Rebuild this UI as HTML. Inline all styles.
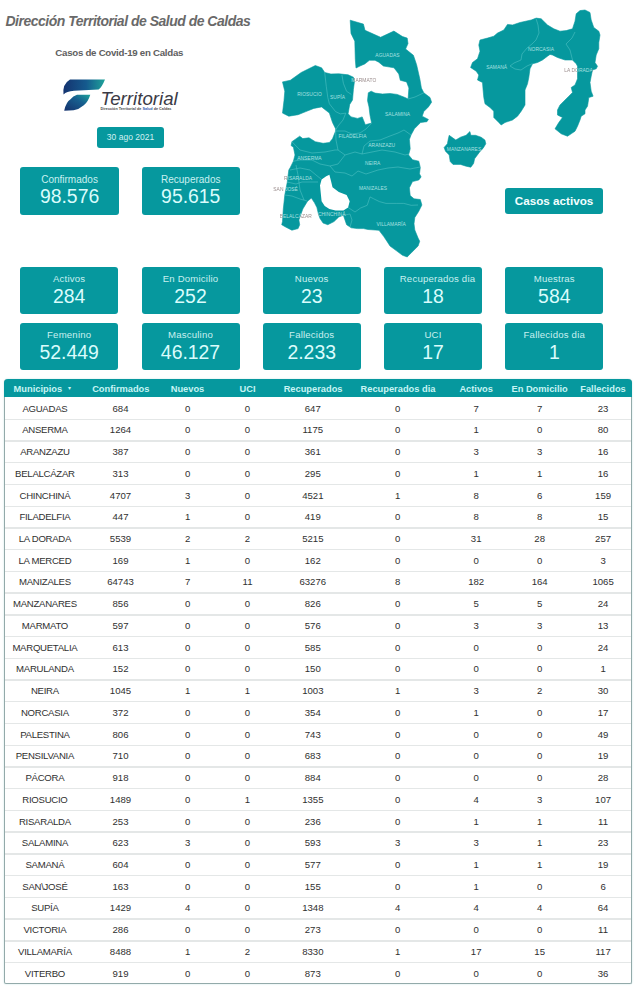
<!DOCTYPE html>
<html><head><meta charset="utf-8"><title>Casos de Covid-19 en Caldas</title>
<style>
*{margin:0;padding:0;box-sizing:border-box}
html,body{width:640px;height:986px;overflow:hidden;background:#fff}
body{position:relative;font-family:"Liberation Sans",Arial,sans-serif}
#title{position:absolute;left:5.5px;top:12.5px;font:italic bold 14px "Liberation Sans",sans-serif;letter-spacing:-0.5px;color:#696969;white-space:nowrap}
#sub{position:absolute;left:55.3px;top:47.4px;font:bold 9.7px "Liberation Sans",sans-serif;letter-spacing:-0.27px;color:#606060;white-space:nowrap}
#date{position:absolute;left:97px;top:127px;width:67px;height:20.5px;background:#06989e;border-radius:3px;color:#d2f1f1;font-size:8.5px;line-height:20.5px;text-align:center}
#btn{position:absolute;left:505.3px;top:188px;width:97.5px;height:26px;background:#06989e;border-radius:3px;color:#f4ffff;font:bold 11.7px/26px "Liberation Sans",sans-serif;text-align:center}
.card{position:absolute;background:#06989e;border-radius:3px}
.cl{position:absolute;left:0;right:0;text-align:center;font-size:10px;line-height:11px;color:#c9f0f0;white-space:nowrap}
.cv{position:absolute;left:0;right:0;text-align:center;font-size:19.4px;line-height:22px;color:#dafcfc;white-space:nowrap}
.cl2{position:absolute;left:0;right:0;top:6.5px;text-align:center;font-size:9.6px;line-height:11px;color:#c9f0f0;white-space:nowrap;letter-spacing:0.2px}
.cv2{position:absolute;left:0;right:0;top:18.3px;text-align:center;font-size:19.4px;line-height:22px;color:#dafcfc;white-space:nowrap}
#tab{position:absolute;border:1px solid #93aaaa;border-top:none;border-radius:4px 4px 2px 2px;box-shadow:0 0 1.5px rgba(120,190,190,0.6)}
#thead{position:absolute;left:-1px;right:-1px;top:0;background:#06989e;border-radius:4px 4px 0 0}
.th{position:absolute;top:0.9px;width:90px;height:18.6px;text-align:center;color:#c8f4f4;font:bold 9.3px/18.6px "Liberation Sans",sans-serif;white-space:nowrap}
.arr{position:absolute;top:0.3px;font:5.5px/18.6px "Liberation Sans",sans-serif;color:#c8f4f4}
.sep{position:absolute;left:0;right:0;height:1.4px;background:#e4e7e7}
.td{position:absolute;width:90px;height:21.73px;line-height:21.73px;margin-top:0.4px;text-align:center;color:#303030;font-size:9.6px;white-space:nowrap}
.tn{letter-spacing:-0.28px}
.ml{font-family:"Liberation Sans",sans-serif;font-size:4.9px;text-anchor:middle;letter-spacing:0.05px}
</style></head><body>
<div id="title">Dirección Territorial de Salud de Caldas</div>
<div id="sub">Casos de Covid-19 en Caldas</div>
<svg id="logo" width="130" height="45" viewBox="55 72 130 45" style="position:absolute;left:55px;top:72px">
<defs>
<linearGradient id="g1" x1="0" y1="0" x2="1" y2="0"><stop offset="0" stop-color="#14336f"/><stop offset="0.55" stop-color="#155a8e"/><stop offset="1" stop-color="#1fa39a"/></linearGradient>
<linearGradient id="g2" x1="0" y1="1" x2="1" y2="0"><stop offset="0" stop-color="#14306c"/><stop offset="0.6" stop-color="#175f8f"/><stop offset="1" stop-color="#1ea49b"/></linearGradient>
</defs>
<path d="M70,79.5 L105,79.5 Q102,87 98.6,89.6 L74,90.8 Q66.5,91.5 63.5,94.5 Q62.3,84 70,79.5 Z" fill="url(#g1)"/>
<path d="M77,94.7 L90.3,94.7 Q88,102 83.8,105.3 Q79,109.5 73.6,110.3 L64.2,110.8 Q66,102 70.5,99.3 Q73,95.8 77,94.7 Z" fill="url(#g2)"/>
<text x="100.5" y="104.6" font-family="Liberation Sans, sans-serif" font-style="italic" font-size="18.7" fill="#3b3b46">Territorial</text>
<text x="100.6" y="109.6" font-family="Liberation Sans, sans-serif" font-size="3.75" font-weight="bold" fill="#4a4a4a">Dirección Territorial de <tspan fill="#2a5db0">Salud</tspan> de Caldas</text>
</svg>
<div id="date">30 ago 2021</div>
<svg id="map" width="640" height="270" viewBox="0 0 640 270" style="position:absolute;left:0;top:0">
<polygon points="350.2,20.2 363.4,24.1 365.0,30.3 380.6,37.3 393.9,31.1 402.5,36.6 407.2,38.1 408.0,43.6 405.6,49.0 413.4,55.3 416.6,64.7 419.8,78.8 421.4,88.1 423.8,92.8 430.0,97.5 431.6,102.2 428.4,106.9 423.8,111.6 422.2,116.2 428.4,119.4 426.9,121.7 420.6,122.5 414.4,128.8 411.0,135.0 409.4,139.4 410.2,148.8 408.6,155.0 412.5,159.7 418.8,161.2 420.3,167.5 419.5,173.8 421.1,176.9 418.8,180.0 412.5,181.6 409.4,187.8 410.2,195.6 414.0,198.8 420.3,199.5 421.9,205.0 418.8,211.2 414.8,217.5 414.0,223.8 414.8,230.0 418.1,238.1 419.7,241.2 418.1,246.0 411.9,252.2 407.2,256.9 402.5,255.3 396.2,250.6 390.0,246.0 386.9,241.2 383.8,236.6 379.0,230.3 368.0,229.5 363.4,228.6 357.5,228.6 351.2,227.8 346.6,224.7 345.0,220.0 343.4,215.3 338.8,216.9 334.0,221.6 327.8,224.7 323.1,223.1 320.0,218.4 318.4,213.8 316.9,207.5 314.5,202.8 311.4,198.1 307.5,201.2 302.8,209.0 298.9,220.0 299.7,224.7 298.1,228.6 291.9,230.2 285.6,227.0 281.7,224.7 282.5,221.6 283.3,209.0 284.8,195.0 287.2,182.5 288.8,170.0 290.3,167.5 293.4,161.2 295.0,155.0 293.4,147.2 291.1,145.6 291.9,141.7 299.7,136.2 302.8,138.6 309.0,137.8 315.3,141.7 323.1,143.3 329.4,142.5 332.5,138.8 335.6,131.0 335.6,128.8 332.5,122.5 329.4,113.1 321.6,106.9 313.8,108.4 305.9,111.6 298.1,114.7 288.8,116.2 282.5,113.1 284.0,100.6 284.8,91.2 282.5,81.9 290.3,80.3 301.2,72.5 315.3,65.5 321.6,67.8 324.7,72.5 330.9,74.0 338.8,73.8 348.1,74.8 353.4,77.2 354.4,81.9 353.4,89.4 352.5,100.0 349.7,104.4 348.1,113.8 351.2,116.9 357.5,118.4 362.2,116.9 365.3,124.7 371.6,123.1 370.0,115.3 369.0,106.9 367.5,100.6 368.3,92.8 371.2,91.2 375.0,93.1 382.5,94.0 390.0,93.5 397.2,94.4 405.0,97.5 408.1,99.0 408.9,88.1 406.6,81.9 400.3,80.3 398.8,74.0 394.0,67.8 383.4,66.0 378.8,62.2 375.0,60.3 369.4,60.3 364.7,64.0 360.0,66.0 356.0,68.0 355.3,59.4 354.8,41.2 351.0,33.4" fill="#06989e" stroke="#06989e" stroke-width="0.6" stroke-linejoin="round"/>
<polygon points="321.6,179.4 326.2,176.2 329.4,174.7 331.0,181.0 332.5,187.2 338.8,191.9 346.6,195.0 349.7,201.2 348.1,207.5 343.4,210.6 335.6,210.6 329.4,209.0 324.7,206.0 321.6,201.2 320.8,193.4 320.0,185.6" fill="#fff"/>
<polygon points="480.0,40.0 487.5,38.1 493.8,36.2 497.5,33.1 503.8,30.0 507.5,24.4 512.5,25.0 520.0,22.5 531.2,20.0 536.2,18.1 541.2,18.8 547.5,25.0 553.8,28.8 560.0,31.2 566.2,30.6 572.5,28.8 575.0,21.2 576.2,13.8 580.0,10.6 585.0,10.0 590.0,12.5 591.2,20.0 593.8,27.5 598.8,31.2 600.0,35.0 598.8,42.5 598.8,48.8 596.2,55.0 595.0,62.5 597.5,66.2 596.2,68.8 592.5,70.0 591.2,76.2 590.0,82.5 591.2,91.2 593.1,96.2 588.8,97.5 588.1,102.5 587.5,106.2 585.0,110.0 585.0,113.8 581.2,116.2 580.0,120.0 577.5,126.2 575.0,131.2 571.2,133.8 567.5,136.2 561.2,133.8 555.0,128.8 558.8,122.5 562.5,117.5 557.5,115.0 557.5,110.0 560.0,105.0 565.0,100.0 568.8,96.2 572.5,92.5 571.2,87.5 575.0,85.0 577.5,78.8 577.5,72.5 577.5,66.2 576.2,63.8 572.5,60.0 565.0,60.0 557.5,57.5 552.5,55.0 550.0,54.4 547.5,56.2 542.5,60.0 537.5,62.5 532.5,63.8 530.0,68.8 528.8,77.5 527.5,83.8 525.0,90.0 525.0,96.2 525.0,105.0 521.2,111.2 517.5,116.2 512.5,120.0 505.0,122.5 501.2,125.0 498.8,122.5 493.8,117.5 493.8,111.2 490.0,107.5 485.0,103.8 483.8,97.5 483.1,90.0 482.5,82.5 477.5,80.0 478.8,75.0 476.2,71.2 470.6,67.5 472.5,62.5 477.5,58.8 480.0,51.2 478.8,45.0" fill="#06989e" stroke="#06989e" stroke-width="0.6" stroke-linejoin="round"/>
<polygon points="449.2,135.3 453.0,138.1 455.8,140.0 460.5,137.2 466.1,135.3 469.9,131.6 470.8,135.3 475.5,135.3 481.1,137.2 484.9,140.0 485.8,143.8 483.0,148.4 480.2,151.2 477.4,155.0 474.6,158.8 473.6,163.4 470.8,167.2 466.1,166.2 460.5,164.4 453.0,164.4 450.2,161.5 449.2,155.0 445.5,151.2 444.1,147.5 447.4,143.8 448.3,139.0" fill="#06989e" stroke="#06989e" stroke-width="0.6" stroke-linejoin="round"/>
<polyline points="324.7,72.5 326.3,86.5 327.8,97.5 329.4,103.8 335.6,111.6 340.3,113.9 345.8,113.1" fill="none" stroke="#55c3c6" stroke-width="0.7" opacity="0.8"/>
<polyline points="341.9,74.8 343.4,83.4 346.6,91.3 351.3,94.4" fill="none" stroke="#55c3c6" stroke-width="0.7" opacity="0.8"/>
<polyline points="345.8,113.1 343.0,120.0 338.0,126.0 335.6,130.0" fill="none" stroke="#55c3c6" stroke-width="0.7" opacity="0.8"/>
<polyline points="335.6,131.0 345.0,131.0 352.0,134.0 360.0,133.0 366.0,129.0 371.6,123.1" fill="none" stroke="#55c3c6" stroke-width="0.7" opacity="0.8"/>
<polyline points="408.1,99.0 415.0,97.0 423.8,92.8" fill="none" stroke="#55c3c6" stroke-width="0.7" opacity="0.8"/>
<polyline points="335.6,131.0 336.0,140.0 338.0,150.0 345.0,155.0 355.0,152.0 362.0,154.0 372.0,152.0 382.0,150.0 395.0,152.0 405.0,155.0 409.0,154.0" fill="none" stroke="#55c3c6" stroke-width="0.7" opacity="0.8"/>
<polyline points="362.0,154.0 364.0,146.0 370.0,141.0 380.0,140.0 390.0,136.0 398.0,133.0 404.0,130.0 411.0,135.0" fill="none" stroke="#55c3c6" stroke-width="0.7" opacity="0.8"/>
<polyline points="291.9,141.7 300.0,150.0 312.0,153.0 325.0,152.0 335.0,150.0 338.0,150.0" fill="none" stroke="#55c3c6" stroke-width="0.7" opacity="0.8"/>
<polyline points="293.4,161.2 300.0,160.0 312.0,160.0 320.0,164.0 330.0,166.0 338.0,164.0 345.0,155.0" fill="none" stroke="#55c3c6" stroke-width="0.7" opacity="0.8"/>
<polyline points="330.0,166.0 335.0,172.0 345.0,173.0 352.0,176.0 358.0,171.0 366.0,174.0 378.0,170.0 388.0,168.0 398.0,167.0 410.0,169.0 420.0,167.0" fill="none" stroke="#55c3c6" stroke-width="0.7" opacity="0.8"/>
<polyline points="290.0,170.0 300.0,168.0 310.0,170.0 316.0,175.0 321.0,179.0" fill="none" stroke="#55c3c6" stroke-width="0.7" opacity="0.8"/>
<polyline points="287.0,182.0 296.0,184.0 302.0,182.0 310.0,182.0 318.0,182.0" fill="none" stroke="#55c3c6" stroke-width="0.7" opacity="0.8"/>
<polyline points="284.8,195.0 292.0,196.0 300.0,199.0 307.0,201.0" fill="none" stroke="#55c3c6" stroke-width="0.7" opacity="0.8"/>
<polyline points="348.1,207.5 355.0,212.0 360.6,208.0 367.2,205.3 370.0,196.9 373.7,198.8 379.4,201.6 386.0,203.4 396.2,203.4 403.8,203.4 411.2,205.3 418.0,205.0" fill="none" stroke="#55c3c6" stroke-width="0.7" opacity="0.8"/>
<polyline points="343.4,215.3 350.0,214.0 352.0,220.0 350.0,227.0" fill="none" stroke="#55c3c6" stroke-width="0.7" opacity="0.8"/>
<polyline points="296.0,165.0 298.0,175.0 300.0,190.0 304.0,200.0" fill="none" stroke="#55c3c6" stroke-width="0.7" opacity="0.8"/>
<polyline points="536.0,18.5 538.0,25.0 539.0,33.0 536.0,40.0 532.0,44.0 527.0,48.0 522.0,54.0 521.0,60.0 514.0,63.0 510.0,66.0 515.0,69.0 521.0,70.0 527.0,66.0 532.0,63.8" fill="none" stroke="#55c3c6" stroke-width="0.7" opacity="0.8"/>
<polyline points="572.5,60.0 570.0,50.0 566.0,44.0 572.0,38.0 575.0,32.0" fill="none" stroke="#55c3c6" stroke-width="0.7" opacity="0.8"/>
<clipPath id="mc"><polygon points="350.2,20.2 363.4,24.1 365.0,30.3 380.6,37.3 393.9,31.1 402.5,36.6 407.2,38.1 408.0,43.6 405.6,49.0 413.4,55.3 416.6,64.7 419.8,78.8 421.4,88.1 423.8,92.8 430.0,97.5 431.6,102.2 428.4,106.9 423.8,111.6 422.2,116.2 428.4,119.4 426.9,121.7 420.6,122.5 414.4,128.8 411.0,135.0 409.4,139.4 410.2,148.8 408.6,155.0 412.5,159.7 418.8,161.2 420.3,167.5 419.5,173.8 421.1,176.9 418.8,180.0 412.5,181.6 409.4,187.8 410.2,195.6 414.0,198.8 420.3,199.5 421.9,205.0 418.8,211.2 414.8,217.5 414.0,223.8 414.8,230.0 418.1,238.1 419.7,241.2 418.1,246.0 411.9,252.2 407.2,256.9 402.5,255.3 396.2,250.6 390.0,246.0 386.9,241.2 383.8,236.6 379.0,230.3 368.0,229.5 363.4,228.6 357.5,228.6 351.2,227.8 346.6,224.7 345.0,220.0 343.4,215.3 338.8,216.9 334.0,221.6 327.8,224.7 323.1,223.1 320.0,218.4 318.4,213.8 316.9,207.5 314.5,202.8 311.4,198.1 307.5,201.2 302.8,209.0 298.9,220.0 299.7,224.7 298.1,228.6 291.9,230.2 285.6,227.0 281.7,224.7 282.5,221.6 283.3,209.0 284.8,195.0 287.2,182.5 288.8,170.0 290.3,167.5 293.4,161.2 295.0,155.0 293.4,147.2 291.1,145.6 291.9,141.7 299.7,136.2 302.8,138.6 309.0,137.8 315.3,141.7 323.1,143.3 329.4,142.5 332.5,138.8 335.6,131.0 335.6,128.8 332.5,122.5 329.4,113.1 321.6,106.9 313.8,108.4 305.9,111.6 298.1,114.7 288.8,116.2 282.5,113.1 284.0,100.6 284.8,91.2 282.5,81.9 290.3,80.3 301.2,72.5 315.3,65.5 321.6,67.8 324.7,72.5 330.9,74.0 338.8,73.8 348.1,74.8 353.4,77.2 354.4,81.9 353.4,89.4 352.5,100.0 349.7,104.4 348.1,113.8 351.2,116.9 357.5,118.4 362.2,116.9 365.3,124.7 371.6,123.1 370.0,115.3 369.0,106.9 367.5,100.6 368.3,92.8 371.2,91.2 375.0,93.1 382.5,94.0 390.0,93.5 397.2,94.4 405.0,97.5 408.1,99.0 408.9,88.1 406.6,81.9 400.3,80.3 398.8,74.0 394.0,67.8 383.4,66.0 378.8,62.2 375.0,60.3 369.4,60.3 364.7,64.0 360.0,66.0 356.0,68.0 355.3,59.4 354.8,41.2 351.0,33.4"/><polygon points="480.0,40.0 487.5,38.1 493.8,36.2 497.5,33.1 503.8,30.0 507.5,24.4 512.5,25.0 520.0,22.5 531.2,20.0 536.2,18.1 541.2,18.8 547.5,25.0 553.8,28.8 560.0,31.2 566.2,30.6 572.5,28.8 575.0,21.2 576.2,13.8 580.0,10.6 585.0,10.0 590.0,12.5 591.2,20.0 593.8,27.5 598.8,31.2 600.0,35.0 598.8,42.5 598.8,48.8 596.2,55.0 595.0,62.5 597.5,66.2 596.2,68.8 592.5,70.0 591.2,76.2 590.0,82.5 591.2,91.2 593.1,96.2 588.8,97.5 588.1,102.5 587.5,106.2 585.0,110.0 585.0,113.8 581.2,116.2 580.0,120.0 577.5,126.2 575.0,131.2 571.2,133.8 567.5,136.2 561.2,133.8 555.0,128.8 558.8,122.5 562.5,117.5 557.5,115.0 557.5,110.0 560.0,105.0 565.0,100.0 568.8,96.2 572.5,92.5 571.2,87.5 575.0,85.0 577.5,78.8 577.5,72.5 577.5,66.2 576.2,63.8 572.5,60.0 565.0,60.0 557.5,57.5 552.5,55.0 550.0,54.4 547.5,56.2 542.5,60.0 537.5,62.5 532.5,63.8 530.0,68.8 528.8,77.5 527.5,83.8 525.0,90.0 525.0,96.2 525.0,105.0 521.2,111.2 517.5,116.2 512.5,120.0 505.0,122.5 501.2,125.0 498.8,122.5 493.8,117.5 493.8,111.2 490.0,107.5 485.0,103.8 483.8,97.5 483.1,90.0 482.5,82.5 477.5,80.0 478.8,75.0 476.2,71.2 470.6,67.5 472.5,62.5 477.5,58.8 480.0,51.2 478.8,45.0"/><polygon points="449.2,135.3 453.0,138.1 455.8,140.0 460.5,137.2 466.1,135.3 469.9,131.6 470.8,135.3 475.5,135.3 481.1,137.2 484.9,140.0 485.8,143.8 483.0,148.4 480.2,151.2 477.4,155.0 474.6,158.8 473.6,163.4 470.8,167.2 466.1,166.2 460.5,164.4 453.0,164.4 450.2,161.5 449.2,155.0 445.5,151.2 444.1,147.5 447.4,143.8 448.3,139.0"/></clipPath>
<mask id="mo" maskUnits="userSpaceOnUse" x="0" y="0" width="640" height="270"><rect width="640" height="270" fill="#fff"/><polygon points="350.2,20.2 363.4,24.1 365.0,30.3 380.6,37.3 393.9,31.1 402.5,36.6 407.2,38.1 408.0,43.6 405.6,49.0 413.4,55.3 416.6,64.7 419.8,78.8 421.4,88.1 423.8,92.8 430.0,97.5 431.6,102.2 428.4,106.9 423.8,111.6 422.2,116.2 428.4,119.4 426.9,121.7 420.6,122.5 414.4,128.8 411.0,135.0 409.4,139.4 410.2,148.8 408.6,155.0 412.5,159.7 418.8,161.2 420.3,167.5 419.5,173.8 421.1,176.9 418.8,180.0 412.5,181.6 409.4,187.8 410.2,195.6 414.0,198.8 420.3,199.5 421.9,205.0 418.8,211.2 414.8,217.5 414.0,223.8 414.8,230.0 418.1,238.1 419.7,241.2 418.1,246.0 411.9,252.2 407.2,256.9 402.5,255.3 396.2,250.6 390.0,246.0 386.9,241.2 383.8,236.6 379.0,230.3 368.0,229.5 363.4,228.6 357.5,228.6 351.2,227.8 346.6,224.7 345.0,220.0 343.4,215.3 338.8,216.9 334.0,221.6 327.8,224.7 323.1,223.1 320.0,218.4 318.4,213.8 316.9,207.5 314.5,202.8 311.4,198.1 307.5,201.2 302.8,209.0 298.9,220.0 299.7,224.7 298.1,228.6 291.9,230.2 285.6,227.0 281.7,224.7 282.5,221.6 283.3,209.0 284.8,195.0 287.2,182.5 288.8,170.0 290.3,167.5 293.4,161.2 295.0,155.0 293.4,147.2 291.1,145.6 291.9,141.7 299.7,136.2 302.8,138.6 309.0,137.8 315.3,141.7 323.1,143.3 329.4,142.5 332.5,138.8 335.6,131.0 335.6,128.8 332.5,122.5 329.4,113.1 321.6,106.9 313.8,108.4 305.9,111.6 298.1,114.7 288.8,116.2 282.5,113.1 284.0,100.6 284.8,91.2 282.5,81.9 290.3,80.3 301.2,72.5 315.3,65.5 321.6,67.8 324.7,72.5 330.9,74.0 338.8,73.8 348.1,74.8 353.4,77.2 354.4,81.9 353.4,89.4 352.5,100.0 349.7,104.4 348.1,113.8 351.2,116.9 357.5,118.4 362.2,116.9 365.3,124.7 371.6,123.1 370.0,115.3 369.0,106.9 367.5,100.6 368.3,92.8 371.2,91.2 375.0,93.1 382.5,94.0 390.0,93.5 397.2,94.4 405.0,97.5 408.1,99.0 408.9,88.1 406.6,81.9 400.3,80.3 398.8,74.0 394.0,67.8 383.4,66.0 378.8,62.2 375.0,60.3 369.4,60.3 364.7,64.0 360.0,66.0 356.0,68.0 355.3,59.4 354.8,41.2 351.0,33.4" fill="#000"/><polygon points="480.0,40.0 487.5,38.1 493.8,36.2 497.5,33.1 503.8,30.0 507.5,24.4 512.5,25.0 520.0,22.5 531.2,20.0 536.2,18.1 541.2,18.8 547.5,25.0 553.8,28.8 560.0,31.2 566.2,30.6 572.5,28.8 575.0,21.2 576.2,13.8 580.0,10.6 585.0,10.0 590.0,12.5 591.2,20.0 593.8,27.5 598.8,31.2 600.0,35.0 598.8,42.5 598.8,48.8 596.2,55.0 595.0,62.5 597.5,66.2 596.2,68.8 592.5,70.0 591.2,76.2 590.0,82.5 591.2,91.2 593.1,96.2 588.8,97.5 588.1,102.5 587.5,106.2 585.0,110.0 585.0,113.8 581.2,116.2 580.0,120.0 577.5,126.2 575.0,131.2 571.2,133.8 567.5,136.2 561.2,133.8 555.0,128.8 558.8,122.5 562.5,117.5 557.5,115.0 557.5,110.0 560.0,105.0 565.0,100.0 568.8,96.2 572.5,92.5 571.2,87.5 575.0,85.0 577.5,78.8 577.5,72.5 577.5,66.2 576.2,63.8 572.5,60.0 565.0,60.0 557.5,57.5 552.5,55.0 550.0,54.4 547.5,56.2 542.5,60.0 537.5,62.5 532.5,63.8 530.0,68.8 528.8,77.5 527.5,83.8 525.0,90.0 525.0,96.2 525.0,105.0 521.2,111.2 517.5,116.2 512.5,120.0 505.0,122.5 501.2,125.0 498.8,122.5 493.8,117.5 493.8,111.2 490.0,107.5 485.0,103.8 483.8,97.5 483.1,90.0 482.5,82.5 477.5,80.0 478.8,75.0 476.2,71.2 470.6,67.5 472.5,62.5 477.5,58.8 480.0,51.2 478.8,45.0" fill="#000"/><polygon points="449.2,135.3 453.0,138.1 455.8,140.0 460.5,137.2 466.1,135.3 469.9,131.6 470.8,135.3 475.5,135.3 481.1,137.2 484.9,140.0 485.8,143.8 483.0,148.4 480.2,151.2 477.4,155.0 474.6,158.8 473.6,163.4 470.8,167.2 466.1,166.2 460.5,164.4 453.0,164.4 450.2,161.5 449.2,155.0 445.5,151.2 444.1,147.5 447.4,143.8 448.3,139.0" fill="#000"/><polygon points="321.6,179.4 326.2,176.2 329.4,174.7 331.0,181.0 332.5,187.2 338.8,191.9 346.6,195.0 349.7,201.2 348.1,207.5 343.4,210.6 335.6,210.6 329.4,209.0 324.7,206.0 321.6,201.2 320.8,193.4 320.0,185.6" fill="#fff"/></mask>
<g mask="url(#mo)">
<text x="387.5" y="56.5" class="ml" fill="#9a8c8c">AGUADAS</text>
<text x="363.8" y="82" class="ml" fill="#9a8c8c">MARMATO</text>
<text x="309.5" y="96" class="ml" fill="#9a8c8c">RIOSUCIO</text>
<text x="337.5" y="99" class="ml" fill="#9a8c8c">SUPÍA</text>
<text x="397.6" y="115.5" class="ml" fill="#9a8c8c">SALAMINA</text>
<text x="352.5" y="138" class="ml" fill="#9a8c8c">FILADELFIA</text>
<text x="381.7" y="147.4" class="ml" fill="#9a8c8c">ARANZAZU</text>
<text x="372.7" y="164.6" class="ml" fill="#9a8c8c">NEIRA</text>
<text x="309.4" y="159.7" class="ml" fill="#9a8c8c">ANSERMA</text>
<text x="298" y="180" class="ml" fill="#9a8c8c">RISARALDA</text>
<text x="285.6" y="191" class="ml" fill="#9a8c8c">SAN JOSÉ</text>
<text x="373" y="190.2" class="ml" fill="#9a8c8c">MANIZALES</text>
<text x="295.8" y="217.6" class="ml" fill="#9a8c8c">BELALCÁZAR</text>
<text x="331.7" y="216" class="ml" fill="#9a8c8c">CHINCHINÁ</text>
<text x="391.1" y="226.4" class="ml" fill="#9a8c8c">VILLAMARÍA</text>
<text x="496.7" y="68.5" class="ml" fill="#9a8c8c">SAMANÁ</text>
<text x="541" y="51" class="ml" fill="#9a8c8c">NORCASIA</text>
<text x="578.5" y="72.2" class="ml" fill="#9a8c8c">LA DORADA</text>
<text x="464" y="150.6" class="ml" fill="#9a8c8c">MANZANARES</text>
</g>
<g clip-path="url(#mc)">
<text x="387.5" y="56.5" class="ml" fill="#a9e0e0">AGUADAS</text>
<text x="363.8" y="82" class="ml" fill="#a9e0e0">MARMATO</text>
<text x="309.5" y="96" class="ml" fill="#a9e0e0">RIOSUCIO</text>
<text x="337.5" y="99" class="ml" fill="#a9e0e0">SUPÍA</text>
<text x="397.6" y="115.5" class="ml" fill="#a9e0e0">SALAMINA</text>
<text x="352.5" y="138" class="ml" fill="#a9e0e0">FILADELFIA</text>
<text x="381.7" y="147.4" class="ml" fill="#a9e0e0">ARANZAZU</text>
<text x="372.7" y="164.6" class="ml" fill="#a9e0e0">NEIRA</text>
<text x="309.4" y="159.7" class="ml" fill="#a9e0e0">ANSERMA</text>
<text x="298" y="180" class="ml" fill="#a9e0e0">RISARALDA</text>
<text x="285.6" y="191" class="ml" fill="#a9e0e0">SAN JOSÉ</text>
<text x="373" y="190.2" class="ml" fill="#a9e0e0">MANIZALES</text>
<text x="295.8" y="217.6" class="ml" fill="#a9e0e0">BELALCÁZAR</text>
<text x="331.7" y="216" class="ml" fill="#a9e0e0">CHINCHINÁ</text>
<text x="391.1" y="226.4" class="ml" fill="#a9e0e0">VILLAMARÍA</text>
<text x="496.7" y="68.5" class="ml" fill="#a9e0e0">SAMANÁ</text>
<text x="541" y="51" class="ml" fill="#a9e0e0">NORCASIA</text>
<text x="578.5" y="72.2" class="ml" fill="#a9e0e0">LA DORADA</text>
<text x="464" y="150.6" class="ml" fill="#a9e0e0">MANZANARES</text>
</g>
</svg>
<div id="btn">Casos activos</div>
<div class="card" style="left:20.3px;top:166.8px;width:98.5px;height:48px"><div class="cl" style="top:7px">Confirmados</div><div class="cv" style="top:18px">98.576</div></div>
<div class="card" style="left:141.5px;top:166.8px;width:98.5px;height:48px"><div class="cl" style="top:7px">Recuperados</div><div class="cv" style="top:18px">95.615</div></div>
<div class="card" style="left:20.2px;top:266.6px;width:98px;height:47.6px"><div class="cl2">Activos</div><div class="cv2">284</div></div>
<div class="card" style="left:141.5px;top:266.6px;width:98px;height:47.6px"><div class="cl2">En Domicilio</div><div class="cv2">252</div></div>
<div class="card" style="left:262.7px;top:266.6px;width:98px;height:47.6px"><div class="cl2">Nuevos</div><div class="cv2">23</div></div>
<div class="card" style="left:384.0px;top:266.6px;width:98px;height:47.6px"><div class="cl2" style="left:9px;right:0">Recuperados dia</div><div class="cv2">18</div></div>
<div class="card" style="left:505.3px;top:266.6px;width:98px;height:47.6px"><div class="cl2">Muestras</div><div class="cv2">584</div></div>
<div class="card" style="left:20.2px;top:322.6px;width:98px;height:47.6px"><div class="cl2">Femenino</div><div class="cv2">52.449</div></div>
<div class="card" style="left:141.5px;top:322.6px;width:98px;height:47.6px"><div class="cl2">Masculino</div><div class="cv2">46.127</div></div>
<div class="card" style="left:262.7px;top:322.6px;width:98px;height:47.6px"><div class="cl2">Fallecidos</div><div class="cv2">2.233</div></div>
<div class="card" style="left:384.0px;top:322.6px;width:98px;height:47.6px"><div class="cl2">UCI</div><div class="cv2">17</div></div>
<div class="card" style="left:505.3px;top:322.6px;width:98px;height:47.6px"><div class="cl2">Fallecidos dia</div><div class="cv2">1</div></div>
<div id="tab" style="left:4px;top:378.7px;width:628px;height:605.3px">
<div id="thead" style="height:18.6px"></div>
<div class="th" style="left:8.6px;width:auto;text-align:left">Municipios</div>
<div class="arr" style="left:62.6px">&#9662;</div>
<div class="th" style="left:70.8px">Confirmados</div>
<div class="th" style="left:137.5px">Nuevos</div>
<div class="th" style="left:197.5px">UCI</div>
<div class="th" style="left:263.1px">Recuperados</div>
<div class="th" style="left:348.0px">Recuperados dia</div>
<div class="th" style="left:426.2px">Activos</div>
<div class="th" style="left:489.6px">En Domicilio</div>
<div class="th" style="left:553.0px">Fallecidos</div>
<div class="td tn" style="left:-5.1px;top:18.6px">AGUADAS</div>
<div class="td" style="left:70.5px;top:18.6px">684</div>
<div class="td" style="left:137.7px;top:18.6px">0</div>
<div class="td" style="left:197.5px;top:18.6px">0</div>
<div class="td" style="left:262.8px;top:18.6px">647</div>
<div class="td" style="left:347.7px;top:18.6px">0</div>
<div class="td" style="left:426.2px;top:18.6px">7</div>
<div class="td" style="left:489.7px;top:18.6px">7</div>
<div class="td" style="left:553.1px;top:18.6px">23</div>
<div class="sep" style="top:39.93px"></div>
<div class="td tn" style="left:-5.1px;top:40.3px">ANSERMA</div>
<div class="td" style="left:70.5px;top:40.3px">1264</div>
<div class="td" style="left:137.7px;top:40.3px">0</div>
<div class="td" style="left:197.5px;top:40.3px">0</div>
<div class="td" style="left:262.8px;top:40.3px">1175</div>
<div class="td" style="left:347.7px;top:40.3px">0</div>
<div class="td" style="left:426.2px;top:40.3px">1</div>
<div class="td" style="left:489.7px;top:40.3px">0</div>
<div class="td" style="left:553.1px;top:40.3px">80</div>
<div class="sep" style="top:61.66px"></div>
<div class="td tn" style="left:-5.1px;top:62.1px">ARANZAZU</div>
<div class="td" style="left:70.5px;top:62.1px">387</div>
<div class="td" style="left:137.7px;top:62.1px">0</div>
<div class="td" style="left:197.5px;top:62.1px">0</div>
<div class="td" style="left:262.8px;top:62.1px">361</div>
<div class="td" style="left:347.7px;top:62.1px">0</div>
<div class="td" style="left:426.2px;top:62.1px">3</div>
<div class="td" style="left:489.7px;top:62.1px">3</div>
<div class="td" style="left:553.1px;top:62.1px">16</div>
<div class="sep" style="top:83.39px"></div>
<div class="td tn" style="left:-5.1px;top:83.8px">BELALCÁZAR</div>
<div class="td" style="left:70.5px;top:83.8px">313</div>
<div class="td" style="left:137.7px;top:83.8px">0</div>
<div class="td" style="left:197.5px;top:83.8px">0</div>
<div class="td" style="left:262.8px;top:83.8px">295</div>
<div class="td" style="left:347.7px;top:83.8px">0</div>
<div class="td" style="left:426.2px;top:83.8px">1</div>
<div class="td" style="left:489.7px;top:83.8px">1</div>
<div class="td" style="left:553.1px;top:83.8px">16</div>
<div class="sep" style="top:105.12px"></div>
<div class="td tn" style="left:-5.1px;top:105.5px">CHINCHINÁ</div>
<div class="td" style="left:70.5px;top:105.5px">4707</div>
<div class="td" style="left:137.7px;top:105.5px">3</div>
<div class="td" style="left:197.5px;top:105.5px">0</div>
<div class="td" style="left:262.8px;top:105.5px">4521</div>
<div class="td" style="left:347.7px;top:105.5px">1</div>
<div class="td" style="left:426.2px;top:105.5px">8</div>
<div class="td" style="left:489.7px;top:105.5px">6</div>
<div class="td" style="left:553.1px;top:105.5px">159</div>
<div class="sep" style="top:126.85px"></div>
<div class="td tn" style="left:-5.1px;top:127.2px">FILADELFIA</div>
<div class="td" style="left:70.5px;top:127.2px">447</div>
<div class="td" style="left:137.7px;top:127.2px">1</div>
<div class="td" style="left:197.5px;top:127.2px">0</div>
<div class="td" style="left:262.8px;top:127.2px">419</div>
<div class="td" style="left:347.7px;top:127.2px">0</div>
<div class="td" style="left:426.2px;top:127.2px">8</div>
<div class="td" style="left:489.7px;top:127.2px">8</div>
<div class="td" style="left:553.1px;top:127.2px">15</div>
<div class="sep" style="top:148.58px"></div>
<div class="td tn" style="left:-5.1px;top:149.0px">LA DORADA</div>
<div class="td" style="left:70.5px;top:149.0px">5539</div>
<div class="td" style="left:137.7px;top:149.0px">2</div>
<div class="td" style="left:197.5px;top:149.0px">2</div>
<div class="td" style="left:262.8px;top:149.0px">5215</div>
<div class="td" style="left:347.7px;top:149.0px">0</div>
<div class="td" style="left:426.2px;top:149.0px">31</div>
<div class="td" style="left:489.7px;top:149.0px">28</div>
<div class="td" style="left:553.1px;top:149.0px">257</div>
<div class="sep" style="top:170.31px"></div>
<div class="td tn" style="left:-5.1px;top:170.7px">LA MERCED</div>
<div class="td" style="left:70.5px;top:170.7px">169</div>
<div class="td" style="left:137.7px;top:170.7px">1</div>
<div class="td" style="left:197.5px;top:170.7px">0</div>
<div class="td" style="left:262.8px;top:170.7px">162</div>
<div class="td" style="left:347.7px;top:170.7px">0</div>
<div class="td" style="left:426.2px;top:170.7px">0</div>
<div class="td" style="left:489.7px;top:170.7px">0</div>
<div class="td" style="left:553.1px;top:170.7px">3</div>
<div class="sep" style="top:192.04px"></div>
<div class="td tn" style="left:-5.1px;top:192.4px">MANIZALES</div>
<div class="td" style="left:70.5px;top:192.4px">64743</div>
<div class="td" style="left:137.7px;top:192.4px">7</div>
<div class="td" style="left:197.5px;top:192.4px">11</div>
<div class="td" style="left:262.8px;top:192.4px">63276</div>
<div class="td" style="left:347.7px;top:192.4px">8</div>
<div class="td" style="left:426.2px;top:192.4px">182</div>
<div class="td" style="left:489.7px;top:192.4px">164</div>
<div class="td" style="left:553.1px;top:192.4px">1065</div>
<div class="sep" style="top:213.77px"></div>
<div class="td tn" style="left:-5.1px;top:214.2px">MANZANARES</div>
<div class="td" style="left:70.5px;top:214.2px">856</div>
<div class="td" style="left:137.7px;top:214.2px">0</div>
<div class="td" style="left:197.5px;top:214.2px">0</div>
<div class="td" style="left:262.8px;top:214.2px">826</div>
<div class="td" style="left:347.7px;top:214.2px">0</div>
<div class="td" style="left:426.2px;top:214.2px">5</div>
<div class="td" style="left:489.7px;top:214.2px">5</div>
<div class="td" style="left:553.1px;top:214.2px">24</div>
<div class="sep" style="top:235.50px"></div>
<div class="td tn" style="left:-5.1px;top:235.9px">MARMATO</div>
<div class="td" style="left:70.5px;top:235.9px">597</div>
<div class="td" style="left:137.7px;top:235.9px">0</div>
<div class="td" style="left:197.5px;top:235.9px">0</div>
<div class="td" style="left:262.8px;top:235.9px">576</div>
<div class="td" style="left:347.7px;top:235.9px">0</div>
<div class="td" style="left:426.2px;top:235.9px">3</div>
<div class="td" style="left:489.7px;top:235.9px">3</div>
<div class="td" style="left:553.1px;top:235.9px">13</div>
<div class="sep" style="top:257.23px"></div>
<div class="td tn" style="left:-5.1px;top:257.6px">MARQUETALIA</div>
<div class="td" style="left:70.5px;top:257.6px">613</div>
<div class="td" style="left:137.7px;top:257.6px">0</div>
<div class="td" style="left:197.5px;top:257.6px">0</div>
<div class="td" style="left:262.8px;top:257.6px">585</div>
<div class="td" style="left:347.7px;top:257.6px">0</div>
<div class="td" style="left:426.2px;top:257.6px">0</div>
<div class="td" style="left:489.7px;top:257.6px">0</div>
<div class="td" style="left:553.1px;top:257.6px">24</div>
<div class="sep" style="top:278.96px"></div>
<div class="td tn" style="left:-5.1px;top:279.4px">MARULANDA</div>
<div class="td" style="left:70.5px;top:279.4px">152</div>
<div class="td" style="left:137.7px;top:279.4px">0</div>
<div class="td" style="left:197.5px;top:279.4px">0</div>
<div class="td" style="left:262.8px;top:279.4px">150</div>
<div class="td" style="left:347.7px;top:279.4px">0</div>
<div class="td" style="left:426.2px;top:279.4px">0</div>
<div class="td" style="left:489.7px;top:279.4px">0</div>
<div class="td" style="left:553.1px;top:279.4px">1</div>
<div class="sep" style="top:300.69px"></div>
<div class="td tn" style="left:-5.1px;top:301.1px">NEIRA</div>
<div class="td" style="left:70.5px;top:301.1px">1045</div>
<div class="td" style="left:137.7px;top:301.1px">1</div>
<div class="td" style="left:197.5px;top:301.1px">1</div>
<div class="td" style="left:262.8px;top:301.1px">1003</div>
<div class="td" style="left:347.7px;top:301.1px">1</div>
<div class="td" style="left:426.2px;top:301.1px">3</div>
<div class="td" style="left:489.7px;top:301.1px">2</div>
<div class="td" style="left:553.1px;top:301.1px">30</div>
<div class="sep" style="top:322.42px"></div>
<div class="td tn" style="left:-5.1px;top:322.8px">NORCASIA</div>
<div class="td" style="left:70.5px;top:322.8px">372</div>
<div class="td" style="left:137.7px;top:322.8px">0</div>
<div class="td" style="left:197.5px;top:322.8px">0</div>
<div class="td" style="left:262.8px;top:322.8px">354</div>
<div class="td" style="left:347.7px;top:322.8px">0</div>
<div class="td" style="left:426.2px;top:322.8px">1</div>
<div class="td" style="left:489.7px;top:322.8px">0</div>
<div class="td" style="left:553.1px;top:322.8px">17</div>
<div class="sep" style="top:344.15px"></div>
<div class="td tn" style="left:-5.1px;top:344.6px">PALESTINA</div>
<div class="td" style="left:70.5px;top:344.6px">806</div>
<div class="td" style="left:137.7px;top:344.6px">0</div>
<div class="td" style="left:197.5px;top:344.6px">0</div>
<div class="td" style="left:262.8px;top:344.6px">743</div>
<div class="td" style="left:347.7px;top:344.6px">0</div>
<div class="td" style="left:426.2px;top:344.6px">0</div>
<div class="td" style="left:489.7px;top:344.6px">0</div>
<div class="td" style="left:553.1px;top:344.6px">49</div>
<div class="sep" style="top:365.88px"></div>
<div class="td tn" style="left:-5.1px;top:366.3px">PENSILVANIA</div>
<div class="td" style="left:70.5px;top:366.3px">710</div>
<div class="td" style="left:137.7px;top:366.3px">0</div>
<div class="td" style="left:197.5px;top:366.3px">0</div>
<div class="td" style="left:262.8px;top:366.3px">683</div>
<div class="td" style="left:347.7px;top:366.3px">0</div>
<div class="td" style="left:426.2px;top:366.3px">0</div>
<div class="td" style="left:489.7px;top:366.3px">0</div>
<div class="td" style="left:553.1px;top:366.3px">19</div>
<div class="sep" style="top:387.61px"></div>
<div class="td tn" style="left:-5.1px;top:388.0px">PÁCORA</div>
<div class="td" style="left:70.5px;top:388.0px">918</div>
<div class="td" style="left:137.7px;top:388.0px">0</div>
<div class="td" style="left:197.5px;top:388.0px">0</div>
<div class="td" style="left:262.8px;top:388.0px">884</div>
<div class="td" style="left:347.7px;top:388.0px">0</div>
<div class="td" style="left:426.2px;top:388.0px">0</div>
<div class="td" style="left:489.7px;top:388.0px">0</div>
<div class="td" style="left:553.1px;top:388.0px">28</div>
<div class="sep" style="top:409.34px"></div>
<div class="td tn" style="left:-5.1px;top:409.7px">RIOSUCIO</div>
<div class="td" style="left:70.5px;top:409.7px">1489</div>
<div class="td" style="left:137.7px;top:409.7px">0</div>
<div class="td" style="left:197.5px;top:409.7px">1</div>
<div class="td" style="left:262.8px;top:409.7px">1355</div>
<div class="td" style="left:347.7px;top:409.7px">0</div>
<div class="td" style="left:426.2px;top:409.7px">4</div>
<div class="td" style="left:489.7px;top:409.7px">3</div>
<div class="td" style="left:553.1px;top:409.7px">107</div>
<div class="sep" style="top:431.07px"></div>
<div class="td tn" style="left:-5.1px;top:431.5px">RISARALDA</div>
<div class="td" style="left:70.5px;top:431.5px">253</div>
<div class="td" style="left:137.7px;top:431.5px">0</div>
<div class="td" style="left:197.5px;top:431.5px">0</div>
<div class="td" style="left:262.8px;top:431.5px">236</div>
<div class="td" style="left:347.7px;top:431.5px">0</div>
<div class="td" style="left:426.2px;top:431.5px">1</div>
<div class="td" style="left:489.7px;top:431.5px">1</div>
<div class="td" style="left:553.1px;top:431.5px">11</div>
<div class="sep" style="top:452.80px"></div>
<div class="td tn" style="left:-5.1px;top:453.2px">SALAMINA</div>
<div class="td" style="left:70.5px;top:453.2px">623</div>
<div class="td" style="left:137.7px;top:453.2px">3</div>
<div class="td" style="left:197.5px;top:453.2px">0</div>
<div class="td" style="left:262.8px;top:453.2px">593</div>
<div class="td" style="left:347.7px;top:453.2px">3</div>
<div class="td" style="left:426.2px;top:453.2px">3</div>
<div class="td" style="left:489.7px;top:453.2px">1</div>
<div class="td" style="left:553.1px;top:453.2px">23</div>
<div class="sep" style="top:474.53px"></div>
<div class="td tn" style="left:-5.1px;top:474.9px">SAMANÁ</div>
<div class="td" style="left:70.5px;top:474.9px">604</div>
<div class="td" style="left:137.7px;top:474.9px">0</div>
<div class="td" style="left:197.5px;top:474.9px">0</div>
<div class="td" style="left:262.8px;top:474.9px">577</div>
<div class="td" style="left:347.7px;top:474.9px">0</div>
<div class="td" style="left:426.2px;top:474.9px">1</div>
<div class="td" style="left:489.7px;top:474.9px">1</div>
<div class="td" style="left:553.1px;top:474.9px">19</div>
<div class="sep" style="top:496.26px"></div>
<div class="td tn" style="left:-5.1px;top:496.7px">SAN\JOSÉ</div>
<div class="td" style="left:70.5px;top:496.7px">163</div>
<div class="td" style="left:137.7px;top:496.7px">0</div>
<div class="td" style="left:197.5px;top:496.7px">0</div>
<div class="td" style="left:262.8px;top:496.7px">155</div>
<div class="td" style="left:347.7px;top:496.7px">0</div>
<div class="td" style="left:426.2px;top:496.7px">1</div>
<div class="td" style="left:489.7px;top:496.7px">0</div>
<div class="td" style="left:553.1px;top:496.7px">6</div>
<div class="sep" style="top:517.99px"></div>
<div class="td tn" style="left:-5.1px;top:518.4px">SUPÍA</div>
<div class="td" style="left:70.5px;top:518.4px">1429</div>
<div class="td" style="left:137.7px;top:518.4px">4</div>
<div class="td" style="left:197.5px;top:518.4px">0</div>
<div class="td" style="left:262.8px;top:518.4px">1348</div>
<div class="td" style="left:347.7px;top:518.4px">4</div>
<div class="td" style="left:426.2px;top:518.4px">4</div>
<div class="td" style="left:489.7px;top:518.4px">4</div>
<div class="td" style="left:553.1px;top:518.4px">64</div>
<div class="sep" style="top:539.72px"></div>
<div class="td tn" style="left:-5.1px;top:540.1px">VICTORIA</div>
<div class="td" style="left:70.5px;top:540.1px">286</div>
<div class="td" style="left:137.7px;top:540.1px">0</div>
<div class="td" style="left:197.5px;top:540.1px">0</div>
<div class="td" style="left:262.8px;top:540.1px">273</div>
<div class="td" style="left:347.7px;top:540.1px">0</div>
<div class="td" style="left:426.2px;top:540.1px">0</div>
<div class="td" style="left:489.7px;top:540.1px">0</div>
<div class="td" style="left:553.1px;top:540.1px">11</div>
<div class="sep" style="top:561.45px"></div>
<div class="td tn" style="left:-5.1px;top:561.9px">VILLAMARÍA</div>
<div class="td" style="left:70.5px;top:561.9px">8488</div>
<div class="td" style="left:137.7px;top:561.9px">1</div>
<div class="td" style="left:197.5px;top:561.9px">2</div>
<div class="td" style="left:262.8px;top:561.9px">8330</div>
<div class="td" style="left:347.7px;top:561.9px">1</div>
<div class="td" style="left:426.2px;top:561.9px">17</div>
<div class="td" style="left:489.7px;top:561.9px">15</div>
<div class="td" style="left:553.1px;top:561.9px">117</div>
<div class="sep" style="top:583.18px"></div>
<div class="td tn" style="left:-5.1px;top:583.6px">VITERBO</div>
<div class="td" style="left:70.5px;top:583.6px">919</div>
<div class="td" style="left:137.7px;top:583.6px">0</div>
<div class="td" style="left:197.5px;top:583.6px">0</div>
<div class="td" style="left:262.8px;top:583.6px">873</div>
<div class="td" style="left:347.7px;top:583.6px">0</div>
<div class="td" style="left:426.2px;top:583.6px">0</div>
<div class="td" style="left:489.7px;top:583.6px">0</div>
<div class="td" style="left:553.1px;top:583.6px">36</div>
</div>
</body></html>
